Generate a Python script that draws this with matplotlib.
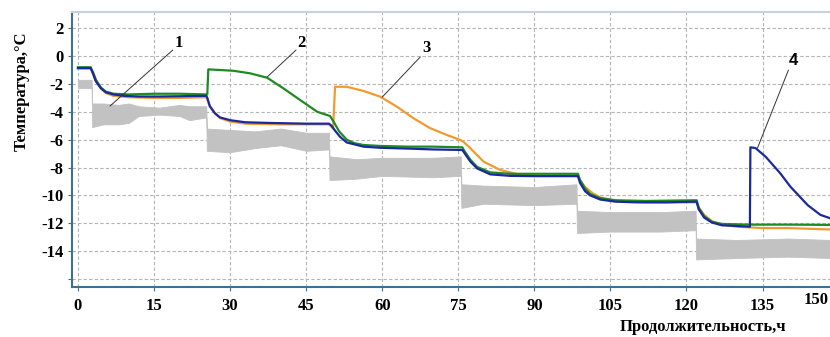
import matplotlib
matplotlib.use('Agg')
import matplotlib.pyplot as plt

# time, h / temperature, C
blue_t = [0, 2.5, 3.0, 3.5, 4.5, 5.5, 7, 9, 12, 16, 20, 25.3,
          25.5, 26, 27, 28, 30, 33, 38, 45, 49.5,
          50, 50.8, 51.7, 53, 56.3, 59.6, 66, 70, 75.8,
          76.1, 77.4, 78.7, 81.3, 85.3, 90, 95, 98.6,
          99, 100, 101, 103, 106, 110, 116, 122,
          122.4, 123.5, 125, 127, 130, 132.5,
          132.6, 133.6, 135.6, 138.5, 140.5, 143.9, 146.4, 148.4]
blue_v = [-0.85, -0.85, -1.3, -1.8, -2.3, -2.6, -2.75, -2.85, -2.9, -2.9, -2.88, -2.85,
          -3.0, -3.6, -4.1, -4.4, -4.6, -4.75, -4.8, -4.85, -4.85,
          -5.0, -5.4, -5.8, -6.2, -6.5, -6.58, -6.65, -6.7, -6.74,
          -6.9, -7.58, -8.06, -8.49, -8.6, -8.62, -8.62, -8.62,
          -9.1, -9.7, -10.0, -10.3, -10.45, -10.5, -10.5, -10.45,
          -11.0, -11.6, -11.95, -12.15, -12.2, -12.25,
          -6.55, -6.6, -7.22, -8.42, -9.38, -10.7, -11.4, -11.65]

green_t = [0, 2.5, 3.0, 3.5, 4.5, 5.5, 7, 10, 15, 20, 25.5,
           25.7, 30.6, 33.9, 37.3, 40.5, 43.8, 47.2, 49.7,
           50.4, 51.5, 53, 54.5, 56.3, 59.6, 65, 70, 75.8,
           76.1, 77.4, 78.7, 81.3, 85.3, 90, 98.6,
           99, 100, 101, 103, 106, 112, 122,
           122.4, 123.5, 125, 127, 132, 140, 148.4]
green_v = [-0.8, -0.8, -1.2, -1.7, -2.25, -2.55, -2.7, -2.75, -2.7, -2.7, -2.75,
           -0.95, -1.05, -1.23, -1.55, -2.31, -3.15, -4.0, -4.3,
           -4.7, -5.4, -6.0, -6.25, -6.38, -6.45, -6.5, -6.5, -6.55,
           -6.75, -7.45, -7.95, -8.35, -8.45, -8.45, -8.45,
           -8.9, -9.5, -9.9, -10.2, -10.35, -10.4, -10.35,
           -10.9, -11.5, -11.9, -12.05, -12.1, -12.1, -12.12]

orange_t = [0, 2.5, 3.0, 3.7, 4.5, 5.5, 7, 10, 15, 20, 25.3,
            25.5, 26, 27, 28, 30, 33, 40, 49.5,
            50.3, 50.7, 53, 56.3, 59.6, 62.9, 66.2, 69.5, 72.8, 75.4,
            76, 77.2, 78.4, 80, 83.3, 86.6, 89.8, 95, 98.6,
            99, 100, 101.5, 103, 106, 112, 122,
            122.5, 123.5, 125, 127, 130, 135, 140, 148.4]
orange_v = [-0.9, -0.9, -1.2, -1.8, -2.3, -2.65, -2.85, -2.95, -3.0, -3.0, -2.95,
            -3.1, -3.6, -4.1, -4.45, -4.7, -4.85, -4.9, -4.9,
            -5.2, -2.2, -2.2, -2.5, -2.91, -3.63, -4.47, -5.18, -5.67, -6.02,
            -6.15, -6.55, -7.0, -7.58, -8.18, -8.47, -8.59, -8.6, -8.6,
            -8.9, -9.4, -9.85, -10.15, -10.4, -10.5, -10.5,
            -10.9, -11.4, -11.85, -12.1, -12.25, -12.35, -12.35, -12.45]

# ambient (noisy band) envelope
gray_t = [0, 2.7, 2.8, 5, 8, 10, 12, 16, 20, 22, 25.3,
          25.4, 30, 35, 40, 45, 49.5,
          49.6, 55, 60, 70, 75.5,
          75.6, 80, 90, 98.3,
          98.4, 105, 115, 121.8,
          121.9, 130, 140, 148.5]
gray_hi = [-1.7, -1.7, -3.4, -3.4, -3.5, -3.4, -3.6, -3.7, -3.5, -3.6, -3.6,
           -5.2, -5.3, -5.4, -5.2, -5.5, -5.5,
           -7.2, -7.4, -7.3, -7.3, -7.2,
           -9.2, -9.3, -9.4, -9.2,
           -11.1, -11.2, -11.2, -11.1,
           -13.1, -13.2, -13.1, -13.2]
gray_lo = [-2.3, -2.3, -5.1, -4.9, -4.9, -4.8, -4.3, -4.2, -4.3, -4.6, -4.4,
           -6.8, -6.9, -6.6, -6.4, -6.8, -6.7,
           -8.9, -8.8, -8.6, -8.7, -8.6,
           -10.9, -10.6, -10.7, -10.6,
           -12.7, -12.6, -12.6, -12.5,
           -14.6, -14.5, -14.4, -14.5]

x_ticks = [0, 15, 30, 45, 60, 75, 90, 105, 120, 135]
y_ticks = [2, 0, -2, -4, -6, -8, -10, -12, -14]

serif = 'Liberation Serif'
spine_c = '#3f6f95'

fig = plt.figure(figsize=(8.3, 3.37), dpi=100)
ax = fig.add_axes([72 / 830, 1 - 287 / 337, 1 - 72 / 830, (287 - 12) / 337])

ax.fill_between(gray_t, gray_lo, gray_hi, color='#c2c2c2', lw=0.6, zorder=2)
ax.plot(orange_t, orange_v, color='#f29a2e', lw=1.6, zorder=3)
ax.plot(green_t, green_v, color='#1f8a24', lw=1.6, zorder=4)
ax.plot(blue_t, blue_v, color='#1a2a9c', lw=1.6, zorder=5)

ax.set_xlim(-1.18, 148.3)
ax.set_ylim(-16.58, 3.17)
ax.set_xticks(x_ticks)
ax.set_yticks(y_ticks + [-16])
ax.set_yticklabels([str(v) for v in y_ticks] + [''])
ax.grid(True, color='#b4b4b4', ls=(0, (3, 2)), lw=0.8, zorder=0)
ax.set_axisbelow(True)

for lab in ax.get_xticklabels() + ax.get_yticklabels():
    lab.set_fontfamily(serif)
    lab.set_fontweight('bold')
    lab.set_fontsize(12)
ax.tick_params(axis='both', length=3, color=spine_c, pad=3)
ax.tick_params(axis='x', pad=5)

ax.spines['left'].set_color(spine_c)
ax.spines['bottom'].set_color(spine_c)
ax.spines['left'].set_linewidth(1.5)
ax.spines['bottom'].set_linewidth(1.5)
ax.spines['top'].set_color('#c3d2de')
ax.spines['top'].set_linewidth(1.5)
ax.spines['right'].set_visible(False)

# curve labels with leader lines
labels = [('1', (19.9, 0.94), (18.7, 0.44), (6.3, -3.59), serif),
          ('2', (44.0, 0.94), (43.0, 0.44), (37.3, -1.5), serif),
          ('3', (68.7, 0.58), (67.5, -0.06), (60.0, -2.94), serif),
          ('4', (141.1, -0.28), (140.1, -1.0), (134.0, -6.6), 'Liberation Sans')]
for txt, pos, start, end, fam in labels:
    ax.annotate('', xy=end, xytext=start,
                arrowprops=dict(arrowstyle='-', color='#333333', lw=0.7,
                                shrinkA=0, shrinkB=0), zorder=6)
    ax.text(pos[0], pos[1], txt, fontfamily=fam, fontweight='bold',
            fontsize=12, ha='center', va='center', zorder=6)

# last x label sits inside the picture edge
fig.text(829 / 830, 1 - 300 / 337, '150', fontfamily=serif, fontweight='bold',
         fontsize=12, ha='right', va='center')
fig.text(703 / 830, 1 - 327 / 337, 'Продолжительность,ч', fontfamily=serif,
         fontweight='bold', fontsize=12, ha='center', va='center')
fig.text(22 / 830, 1 - 91 / 337, 'Температура,°С', fontfamily=serif,
         fontweight='bold', fontsize=12, ha='center', va='center', rotation=90)

fig.savefig('out.png', dpi=100)
